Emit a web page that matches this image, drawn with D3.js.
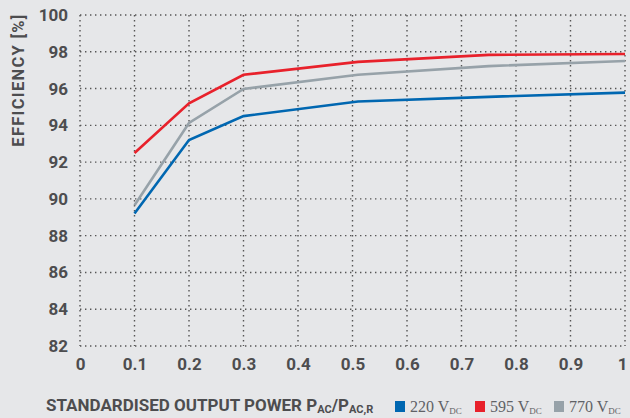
<!DOCTYPE html>
<html>
<head>
<meta charset="utf-8">
<script src="https://cdn.jsdelivr.net/npm/d3@7"></script>
<style>
  body { margin: 0; background: #e6e7e9; }
  svg { display: block; }
  .tick text { font-family: "Liberation Sans Narrow", "Roboto", sans-serif; font-weight: bold; fill: #4d4d4f; }
</style>
</head>
<body>
<div id="chart"></div>
<script>
// data
var power = [0.1, 0.2, 0.3, 0.51, 0.75, 1.0];
var eff220 = [89.2, 93.2, 94.5, 95.3, 95.55, 95.78];
var eff595 = [92.5, 95.2, 96.75, 97.45, 97.83, 97.88];
var eff770 = [89.65, 94.13, 95.98, 96.75, 97.22, 97.5];
var seriesNames = ["220", "595", "770"];
var seriesColors = ["#0067b1", "#e8212b", "#97a2a9"];
var xTicks = [0, 0.1, 0.2, 0.3, 0.4, 0.5, 0.6, 0.7, 0.8, 0.9, 1];
var yTicks = [82, 84, 86, 88, 90, 92, 94, 96, 98, 100];

var svgWidth = 630, svgHeight = 418;
var margin = { top: 15, right: 5, bottom: 72, left: 80 };
var width = svgWidth - margin.left - margin.right;
var height = svgHeight - margin.top - margin.bottom;

var svg = d3.select("#chart").append("svg")
    .attr("width", svgWidth)
    .attr("height", svgHeight);

svg.append("rect").attr("width", svgWidth).attr("height", svgHeight).attr("fill", "#e6e7e9");

var g = svg.append("g").attr("transform", `translate(${margin.left}, ${margin.top})`);

var x = d3.scaleLinear().domain([0, 1]).range([0, width]);
var y = d3.scaleLinear().domain([82, 100]).range([height, 0]);

// dotted grid
g.append("g").selectAll("line.h").data(yTicks).enter().append("line")
    .attr("x1", 0).attr("x2", width)
    .attr("y1", d => y(d)).attr("y2", d => y(d))
    .attr("stroke", "#555").attr("stroke-width", 1.4)
    .attr("stroke-dasharray", "1.4,3.6");

g.append("g").selectAll("line.v").data(xTicks).enter().append("line")
    .attr("x1", d => x(d)).attr("x2", d => x(d))
    .attr("y1", 0).attr("y2", height)
    .attr("stroke", "#555").attr("stroke-width", 1.4)
    .attr("stroke-dasharray", "1.4,3.6");

// axes (labels only)
var xAxis = d3.axisBottom(x).tickValues(xTicks).tickSize(0).tickPadding(12)
    .tickFormat(d => d === 1 ? "1" : d === 0 ? "0" : d3.format(".1f")(d));
var yAxis = d3.axisLeft(y).tickValues(yTicks).tickSize(0).tickPadding(12);

var xg = g.append("g").attr("transform", `translate(0, ${height})`).call(xAxis);
xg.select(".domain").remove();
xg.selectAll("text").attr("font-size", 17).attr("dy", "0.72em");
xg.selectAll(".tick").filter(d => d === 1).select("text").attr("text-anchor", "end").attr("dx", 2);

var yg = g.append("g").call(yAxis);
yg.select(".domain").remove();
yg.selectAll("text").attr("font-size", 17);

// lines
var allSeries = [eff220, eff595, eff770];
var line = d3.line().x((d, i) => x(power[i])).y(d => y(d));

g.selectAll("path.series").data(allSeries).enter().append("path")
    .attr("d", d => line(d))
    .attr("fill", "none")
    .attr("stroke", (d, i) => seriesColors[i])
    .attr("stroke-width", 2.6)
    .attr("stroke-linejoin", "miter");

// axis titles
svg.append("text")
    .attr("transform", "translate(24, 80) rotate(-90)")
    .attr("text-anchor", "middle")
    .attr("font-family", "'Liberation Sans Narrow', Roboto, sans-serif")
    .attr("font-weight", "bold")
    .attr("font-size", 16.5)
    .attr("letter-spacing", 1.3)
    .attr("fill", "#4d4d4f")
    .text("EFFICIENCY [%]");

var xt = svg.append("text")
    .attr("x", 46).attr("y", 411)
    .attr("font-family", "'Liberation Sans Narrow', Roboto, sans-serif")
    .attr("font-weight", "bold")
    .attr("font-size", 17)
    .attr("fill", "#4d4d4f");
xt.append("tspan").text("STANDARDISED OUTPUT POWER P");
xt.append("tspan").attr("font-size", 11).attr("dy", 2).text("AC");
xt.append("tspan").attr("dy", -2).text("/P");
xt.append("tspan").attr("font-size", 11).attr("dy", 2).text("AC,R");

// legend
var legendX = [395, 475, 554];
var leg = svg.append("g").selectAll("g").data(seriesNames).enter().append("g")
    .attr("transform", (d, i) => `translate(${legendX[i]}, 0)`);
leg.append("rect").attr("x", 0).attr("y", 401).attr("width", 10).attr("height", 11)
    .attr("fill", (d, i) => seriesColors[i]);
var lt = leg.append("text").attr("x", 15).attr("y", 412)
    .attr("font-family", "'Liberation Serif', 'DejaVu Serif', serif")
    .attr("font-size", 16)
    .attr("fill", "#5f6266");
lt.append("tspan").text(d => d + " V");
lt.append("tspan").attr("font-size", 9).attr("dy", 2).text("DC");
</script>
</body>
</html>
